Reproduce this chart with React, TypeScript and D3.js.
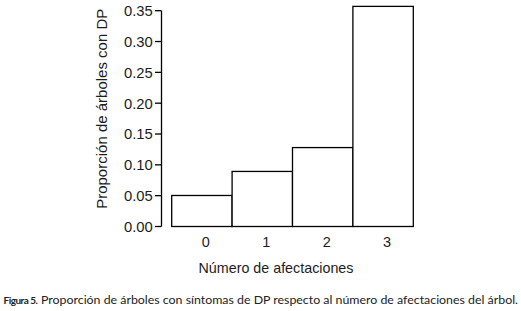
import React, { useLayoutEffect, useRef, useState } from "react";
import * as d3 from "d3";

const categories = ["0", "1", "2", "3"];
const proportions = [0.0503, 0.0893, 0.128, 0.357];
const yTicks = [0, 0.05, 0.1, 0.15, 0.2, 0.25, 0.3, 0.35];
const yLabel = "Proporción de árboles con DP";
const xLabel = "Número de afectaciones";
const captionBold = "Figura 5.";
const captionText = "Proporción de árboles con síntomas de DP respecto al número de afectaciones del árbol.";

export default function App() {
  const W = 521, H = 311;
  const y = d3.scaleLinear().domain([0, 0.35]).range([226.5, 10.7]);
  const x = d3.scaleBand<string>().domain(categories).range([171.7, 413.3]).padding(0);
  const axisX = 161.5;
  const font = "Liberation Sans, Arial, sans-serif";
  const capFont = "Lato, 'Open Sans', sans-serif";
  const textColor = "#1c1c1c";
  const regRef = useRef<SVGTextElement>(null);
  const boldRef = useRef<SVGTextElement>(null);
  const [sizes, setSizes] = useState({ bold: 11.5, reg: 13, done: false });
  useLayoutEffect(() => {
    if (sizes.done || !regRef.current || !boldRef.current) return;
    const rl = regRef.current.getComputedTextLength();
    const bl = boldRef.current.getComputedTextLength();
    const boldSize = Math.min(11.5, 11.5 * 34.5 / bl);
    setSizes({ bold: boldSize, reg: 13 * 477.5 / rl, done: true });
  }, [sizes]);
  return (
    <svg width={W} height={H} style={{ position: "absolute", left: 0, top: 0, background: "#fff" }}>
      <rect x={0} y={0} width={W} height={H} fill="#fff" />
      {categories.map((c, i) => (
        <rect key={c} x={x(c)!} y={y(proportions[i])} width={x.bandwidth()} height={y(0) - y(proportions[i])}
          fill="#fff" stroke="#000" strokeWidth={1.3} />
      ))}
      <line x1={axisX} x2={axisX} y1={y(0.35)} y2={y(0)} stroke="#000" strokeWidth={1.3} />
      {yTicks.map((t) => (
        <g key={t}>
          <line x1={axisX - 6.5} x2={axisX} y1={y(t)} y2={y(t)} stroke="#000" strokeWidth={1.3} />
          <text x={152.8} y={y(t)} dy="0.36em" textAnchor="end" fontFamily={font} fontSize={14.8} fill={textColor}>
            {t.toFixed(2)}
          </text>
        </g>
      ))}
      {categories.map((c) => (
        <text key={c} x={x(c)! + x.bandwidth() / 2 + 4} y={247} textAnchor="middle" fontFamily={font} fontSize={14.5} fill={textColor}>
          {c}
        </text>
      ))}
      <text x={276} y={273.3} textAnchor="middle" fontFamily={font} fontSize={14.3} fill={textColor}>{xLabel}</text>
      <text transform={`translate(107,${(211.5 + 6) / 2}) rotate(-90)`} textAnchor="middle" fontFamily={font} fontSize={15} fill={textColor}>{yLabel}</text>
      <text ref={boldRef} x={3.5} y={304} fontFamily={capFont} fontWeight="bold" fontSize={sizes.bold} letterSpacing={-0.5} fill="#222">{captionBold}</text>
      <text ref={regRef} x={41} y={304} fontFamily={capFont} fontSize={sizes.reg} fill="#222">{captionText}</text>
    </svg>
  );
}
